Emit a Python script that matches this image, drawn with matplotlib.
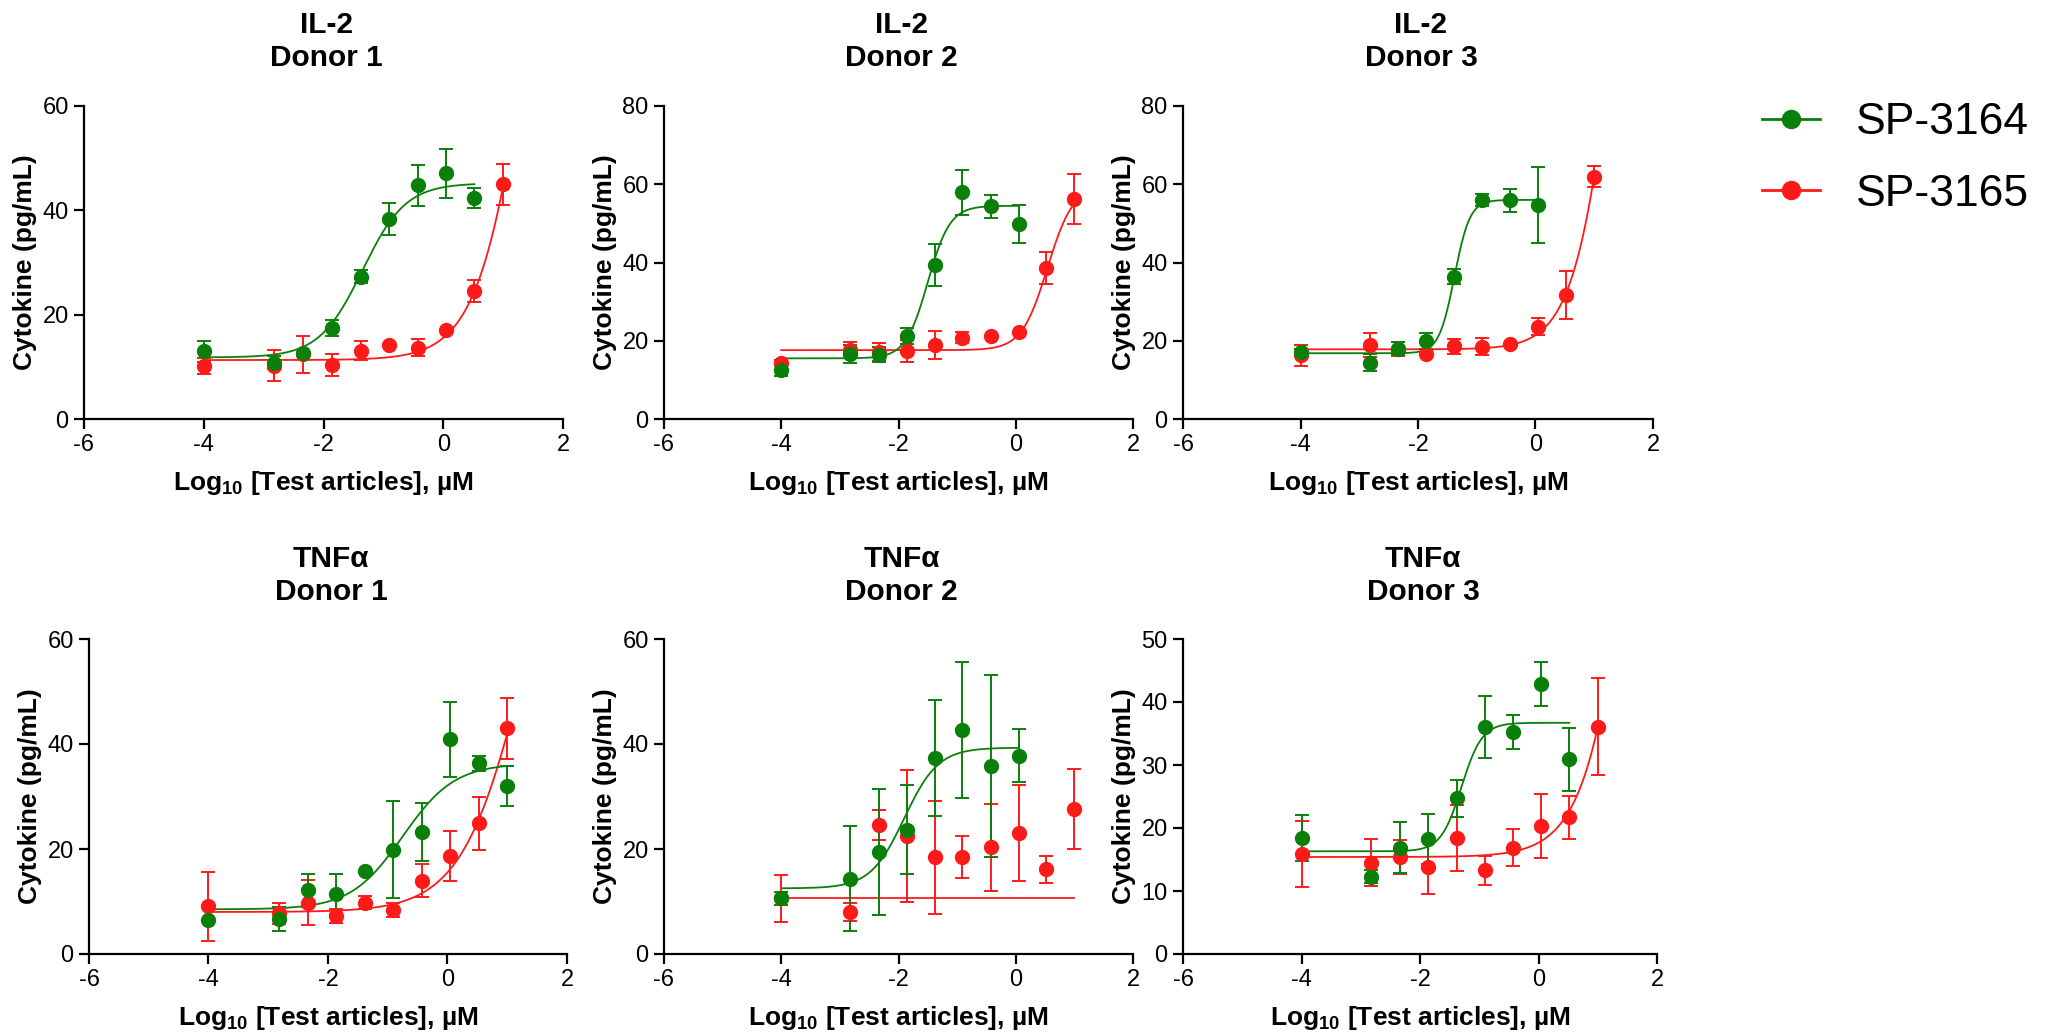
"""Dose-response panels: IL-2 and TNFα release for SP-3164 vs SP-3165."""

import matplotlib
matplotlib.use("Agg")
import matplotlib.pyplot as plt
import numpy as np
from matplotlib.lines import Line2D


GREEN = "#0a800a"
RED = "#ff1a1a"
FONT = "Liberation Sans"

# log10 concentration (µM) for the 10 wells: -4 control + 3-fold series from 10 µM
log_conc = [-4.0, -2.82, -2.34, -1.86, -1.38, -0.91, -0.43, 0.05, 0.52, 1.0]

panel_cytokines = ["IL-2", "IL-2", "IL-2", "TNFα", "TNFα", "TNFα"]
panel_donors = ["Donor 1", "Donor 2", "Donor 3", "Donor 1", "Donor 2", "Donor 3"]
panel_ymax = [60, 80, 80, 60, 60, 50]
panel_ystep = [20, 20, 20, 20, 20, 10]

# SP-3164 (green) means and SEM
sp3164_mean = [
    [13.0, 10.8, 12.6, 17.5, 27.3, 38.4, 44.8, 47.1, 42.4],
    [12.5, 16.6, 16.4, 21.2, 39.3, 57.9, 54.4, 49.9],
    [17.2, 14.4, 18.0, 20.0, 36.4, 55.9, 55.9, 54.7],
    [6.4, 6.7, 12.1, 11.5, 15.8, 19.9, 23.3, 40.9, 36.3, 32.0],
    [10.6, 14.3, 19.5, 23.7, 37.3, 42.7, 35.8, 37.8],
    [18.4, 12.3, 16.9, 18.3, 24.7, 36.0, 35.3, 42.9, 30.9],
]
sp3164_err = [
    [2.0, 1.3, 0.0, 1.5, 1.3, 3.1, 3.9, 4.7, 1.9],
    [1.6, 2.4, 1.9, 2.1, 5.4, 5.7, 2.9, 4.8],
    [0.8, 2.1, 1.6, 2.1, 2.0, 1.5, 3.0, 9.8],
    [0.0, 2.3, 3.1, 3.8, 0.0, 9.2, 5.5, 7.1, 1.5, 3.9],
    [1.3, 10.0, 12.0, 8.5, 11.0, 12.9, 17.3, 5.0],
    [3.7, 1.0, 4.0, 4.0, 2.9, 4.9, 2.7, 3.5, 5.0],
]

# SP-3165 (red) means and SEM
sp3165_mean = [
    [10.2, 10.2, 12.4, 10.3, 13.1, 14.2, 13.7, 17.0, 24.6, 45.0],
    [14.3, 17.7, 17.0, 17.4, 18.9, 20.8, 21.1, 22.3, 38.6, 56.2],
    [16.3, 18.9, 17.8, 16.6, 18.6, 18.5, 19.1, 23.6, 31.6, 61.9],
    [9.1, 7.8, 9.8, 7.3, 9.8, 8.4, 14.0, 18.7, 24.9, 43.0],
    [10.6, 8.0, 24.6, 22.5, 18.4, 18.5, 20.3, 23.0, 16.1, 27.6],
    [15.9, 14.5, 15.4, 13.8, 18.4, 13.3, 16.9, 20.3, 21.7, 36.1],
]
sp3165_err = [
    [1.5, 3.0, 3.6, 2.1, 1.8, 0.0, 1.6, 0.0, 2.1, 3.9],
    [0.8, 2.0, 2.3, 2.8, 3.5, 1.5, 0.0, 0.0, 4.0, 6.3],
    [2.7, 3.0, 1.8, 0.0, 1.9, 2.1, 0.0, 2.1, 6.1, 2.7],
    [6.6, 2.0, 4.3, 1.3, 1.3, 1.3, 3.1, 4.7, 5.0, 5.8],
    [4.5, 1.7, 2.9, 12.6, 10.7, 4.0, 8.3, 9.1, 2.6, 7.6],
    [5.2, 3.7, 2.7, 4.2, 5.3, 2.3, 3.0, 5.1, 3.4, 7.7],
]

# 4PL fit parameters (bottom, top, logEC50, hill)
sp3164_fit = [
    (11.8, 45.2, -1.35, 1.2),
    (15.5, 54.5, -1.5, 2.3),
    (16.8, 56.0, -1.38, 3.3),
    (8.5, 36.3, -0.75, 1.0),
    (12.5, 39.3, -1.9, 1.5),
    (16.3, 36.7, -1.3, 2.5),
]
sp3165_fit = [
    (11.3, 150.0, 1.5, 1.0),
    (17.6, 59.6, 0.54, 1.98),
    (17.8, 200.0, 1.41, 1.2),
    (8.0, 108.0, 1.36, 0.8),
    (10.6, 10.6, 0.0, 1.0),
    (15.4, 215.4, 1.94, 1.0),
]

# axes boxes in pixels (left, bottom, right, top), measured from the top-left corner
W, H = 2054, 1033
boxes = [
    (84, 419, 563, 106), (664, 419, 1133, 106), (1183, 419, 1653, 106),
    (89, 954, 567, 639), (664, 954, 1133, 639), (1183, 954, 1657, 639),
]


def four_pl(x, bottom, top, logec50, hill):
    return bottom + (top - bottom) / (1 + 10 ** ((logec50 - x) * hill))


def draw_series(ax, y, err, fit, color):
    x = np.array(log_conc[: len(y)])
    y = np.array(y)
    err = np.array(err)
    xs = np.linspace(x.min(), x.max(), 300)
    ax.plot(xs, four_pl(xs, *fit), color=color, lw=1.3, zorder=2)
    has = err > 0
    ax.errorbar(x[has], y[has], yerr=err[has], fmt="none", ecolor=color,
                elinewidth=1.4, capsize=5, capthick=1.4, zorder=3)
    ax.plot(x, y, "o", color=color, ms=10, mec=color, zorder=4, clip_on=False)


plt.rcParams["font.family"] = [FONT, "DejaVu Sans"]
plt.rcParams["axes.unicode_minus"] = False
plt.rcParams["mathtext.fontset"] = "custom"
plt.rcParams["mathtext.rm"] = FONT
plt.rcParams["mathtext.bf"] = f"{FONT}:bold"

fig = plt.figure(figsize=(W / 100, H / 100), dpi=100)

for i, (l, b, r, t) in enumerate(boxes):
    ax = fig.add_axes([l / W, 1 - b / H, (r - l) / W, (b - t) / H])
    draw_series(ax, sp3165_mean[i], sp3165_err[i], sp3165_fit[i], RED)
    draw_series(ax, sp3164_mean[i], sp3164_err[i], sp3164_fit[i], GREEN)

    ax.set_xlim(-6, 2)
    ax.set_ylim(0, panel_ymax[i])
    ax.set_xticks(np.arange(-6, 3, 2))
    ax.set_yticks(np.arange(0, panel_ymax[i] + 1, panel_ystep[i]))
    for side in ("top", "right"):
        ax.spines[side].set_visible(False)
    for side in ("left", "bottom"):
        ax.spines[side].set_linewidth(1.6)
    ax.tick_params(direction="out", length=7, width=1.6, labelsize=17, pad=4)
    ax.set_xlabel(r"Log$_{\mathbf{10}}$ [Test articles], µM", fontsize=19,
                  fontweight="bold", labelpad=9)
    ax.set_ylabel("Cytokine (pg/mL)", fontsize=19, fontweight="bold", labelpad=4)

    cx = ((l + r) / 2 + 3) / W
    top_y = t - 81 if i < 3 else t - 80
    fig.text(cx, 1 - top_y / H, panel_cytokines[i], ha="center", va="center",
             fontsize=21.5, fontweight="bold")
    fig.text(cx, 1 - (top_y + 33) / H, panel_donors[i], ha="center", va="center",
             fontsize=21.5, fontweight="bold")

handles = [
    Line2D([], [], color=GREEN, lw=2, marker="o", ms=13),
    Line2D([], [], color=RED, lw=2, marker="o", ms=13),
]
fig.legend(handles, ["SP-3164", "SP-3165"], loc="upper left",
           bbox_to_anchor=(1740 / W, 1 - 80 / H), frameon=False, fontsize=32,
           handlelength=1.3, handletextpad=0.8, labelspacing=0.69, borderpad=0)

fig.savefig("out.png", dpi=100, facecolor="white")
